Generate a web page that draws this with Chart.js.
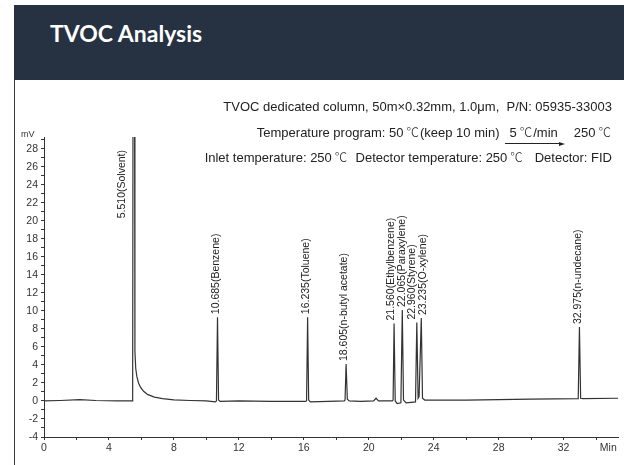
<!DOCTYPE html>
<html>
<head>
<meta charset="utf-8">
<script src="https://cdn.jsdelivr.net/npm/chart.js@4.4.1/dist/chart.umd.min.js"></script>
<style>
  body { margin: 0; background: #fff; }
  #page { position: relative; width: 624px; height: 465px; overflow: hidden;
          font-family: "Liberation Sans", Arial, "Noto Sans CJK SC", sans-serif; }
  #card { position: absolute; left: 14px; top: 5px; right: 0; bottom: 0;
          border-left: 1px solid #3a3a3a; border-top: 1px solid #c9c9c9; }
  #head { position: absolute; left: 14px; top: 5px; right: 0; height: 75px; background: #263242; }
  #title { position: absolute; left: 36px; top: 17px; font: bold 23px Lato, sans-serif;
           line-height: 23px; color: #fff; }
  #chart { position: absolute; left: 0; top: 80px; }
  .note { position: absolute; right: 12px; font-size: 13px; line-height: 16px; color: #222; white-space: nowrap; }
  .c { font-family: "Noto Sans CJK SC", sans-serif; font-weight: 300; font-size: 12.5px; margin: 0 1px 0 3px; }
  .arrow { position: relative; display: inline-block; padding: 0 4px; margin: 0 12px 0 6px; }
  .arrow::after { content: ''; position: absolute; left: 0; right: 0; bottom: -3px; border-top: 1px solid #222; }
  .arrow::before { content: ''; position: absolute; right: -3px; bottom: -5px;
                   border-left: 6px solid #222; border-top: 2.5px solid transparent; border-bottom: 2.5px solid transparent; }
  #unit { position: absolute; left: 21px; top: 129px; font-size: 9px; color: #333; }
</style>
</head>
<body>
<div id="page">
  <div id="card"></div>
  <div id="head"><div id="title">TVOC Analysis</div></div>
  <canvas id="chart" width="624" height="385"></canvas>
  <div class="note" style="top:99px">TVOC dedicated column, 50m×0.32mm, 1.0μm,&nbsp; P/N: 05935-33003</div>
  <div class="note" style="top:124px">Temperature program: 50<span class="c">℃</span>(keep 10 min)<span class="arrow">5<span class="c">℃</span>/min</span>250<span class="c">℃</span></div>
  <div class="note" style="top:149px">Inlet temperature: 250<span class="c">℃</span>&nbsp; Detector temperature: 250<span class="c">℃</span>&nbsp;&nbsp; Detector: FID</div>
  <div id="unit">mV</div>
</div>
<script>
// chromatogram trace (time in min, signal in mV)
const times = [0, 1, 2.2, 3.2, 4.5, 5.42,
  5.46, 5.49, 5.57, 5.6, 5.65, 5.72, 5.82, 5.95, 6.15, 6.4, 6.8, 7.3, 8.0, 9.0, 10.0, 10.55,
  10.62, 10.685, 10.75, 10.85, 12, 14, 16.1,
  16.17, 16.235, 16.3, 16.4, 17.5, 18.5,
  18.54, 18.605, 18.68, 18.8, 19.5, 20.3, 20.45, 20.6, 21.45,
  21.5, 21.56, 21.63, 21.75, 21.98,
  22.065, 22.14, 22.3, 22.88,
  22.96, 23.04, 23.1,
  23.235, 23.31, 23.45, 26, 30, 32.9,
  32.975, 33.05, 33.2, 35.35];
const signal = [0, 0.05, 0.15, 0.05, 0, 0,
  0.1, 45, 45, 5.5, 3.6, 2.7, 2.0, 1.5, 1.05, 0.7, 0.42, 0.25, 0.13, 0.05, 0, -0.1,
  0, 9.3, 0.1, -0.05, 0, -0.05, -0.05,
  0, 9.3, 0.1, -0.1, -0.05, 0,
  0.1, 4.1, 0.2, 0, -0.05, 0, 0.3, 0, 0,
  0.1, 8.6, 0, -0.3, -0.2,
  10.1, 0.1, -0.2, -0.1,
  8.7, 0.3, 0.5,
  9.2, 0.3, 0.1, 0.1, 0.2, 0.25,
  8.2, 0.3, 0.25, 0.3];

// labelled peaks
const peakTimes = [5.510, 10.685, 16.235, 18.605, 21.560, 22.065, 22.960, 23.235, 32.975];
const peakNames = ["Solvent", "Benzene", "Toluene", "n-butyl acetate", "Ethylbenzene",
  "Paraxylene", "Styrene", "O-xylene", "n-undecane"];
const peakHeights = [45, 9.3, 9.3, 4.1, 8.6, 10.1, 8.7, 9.2, 8.2];

// axis ticks
const xTickLabels = [0, 4, 8, 12, 16, 20, 24, 28, 32];
const yTickLabels = [-4, -2, 0, 2, 4, 6, 8, 10, 12, 14, 16, 18, 20, 22, 24, 26, 28];

const tickFont = { family: '"Liberation Sans", Arial, sans-serif', size: 10.5 };

// vertical peak names above each peak
const peakLabels = {
  id: "peakLabels",
  afterDatasetsDraw(chart) {
    const { ctx, chartArea } = chart;
    const x = chart.scales.x, y = chart.scales.y;
    ctx.save();
    ctx.font = '10.5px "Liberation Sans", Arial, sans-serif';
    ctx.fillStyle = "#222";
    ctx.textBaseline = "middle";
    // push crowded labels apart
    const xs = peakTimes.map(t => x.getPixelForValue(t) - 1.5);
    for (let pass = 0; pass < 5; pass++) {
      for (let i = 0; i < xs.length - 1; i++) {
        const d = xs[i + 1] - xs[i];
        if (d < 10.5) { xs[i] -= (10.5 - d) / 2; xs[i + 1] += (10.5 - d) / 2; }
      }
    }
    for (let i = 0; i < peakTimes.length; i++) {
      const text = peakTimes[i].toFixed(3) + "(" + peakNames[i] + ")";
      const w = ctx.measureText(text).width;
      let px = xs[i], bottom;
      if (peakHeights[i] > y.max) {
        // off-scale peak: label sits beside it
        px = x.getPixelForValue(peakTimes[i]) - 11.5;
        bottom = chartArea.top + 13 + w;
      } else {
        bottom = y.getPixelForValue(peakHeights[i]) - 3;
      }
      ctx.save();
      ctx.translate(px, bottom);
      ctx.rotate(-Math.PI / 2);
      ctx.fillText(text, 0, 0);
      ctx.restore();
    }
    ctx.restore();
  }
};

new Chart(document.getElementById("chart"), {
  type: "line",
  data: {
    datasets: [{
      data: times.map((t, i) => ({ x: t, y: signal[i] })),
      borderColor: "#333",
      borderWidth: 1.2,
      pointRadius: 0,
      tension: 0,
      fill: false
    }]
  },
  options: {
    responsive: false,
    animation: false,
    devicePixelRatio: 1,
    layout: { padding: { left: 0, right: 6, top: 57, bottom: 8 } },
    plugins: { legend: { display: false }, tooltip: { enabled: false } },
    scales: {
      x: {
        type: "linear",
        min: 0,
        max: 35.35,
        afterFit: s => { s.height = 20; },
        afterBuildTicks: s => {
          const v = [];
          for (let t = 0; t <= 34; t += 2) v.push({ value: t });
          v.push({ value: 34.75 });
          s.ticks = v;
        },
        ticks: {
          autoSkip: false, maxRotation: 0, padding: 2, color: "#333", font: tickFont,
          callback: v => v > 34 ? "Min" : (xTickLabels.includes(v) ? String(v) : "")
        },
        grid: {
          drawOnChartArea: false, tickLength: 3,
          tickColor: c => (c.tick && c.tick.value > 34) ? "rgba(0,0,0,0)" : "#333"
        },
        border: { color: "#333" }
      },
      y: {
        min: -4,
        max: 29.3,
        afterFit: s => { s.width = 44; },
        afterBuildTicks: s => {
          const v = [];
          for (let k = -4; k <= 29; k++) v.push({ value: k });
          s.ticks = v;
        },
        ticks: {
          autoSkip: false, padding: 3, color: "#333", font: tickFont,
          callback: v => yTickLabels.includes(v) ? String(v) : ""
        },
        grid: { drawOnChartArea: false, tickLength: 3, tickColor: "#333" },
        border: { color: "#333" }
      }
    }
  },
  plugins: [peakLabels]
});
</script>
</body>
</html>
